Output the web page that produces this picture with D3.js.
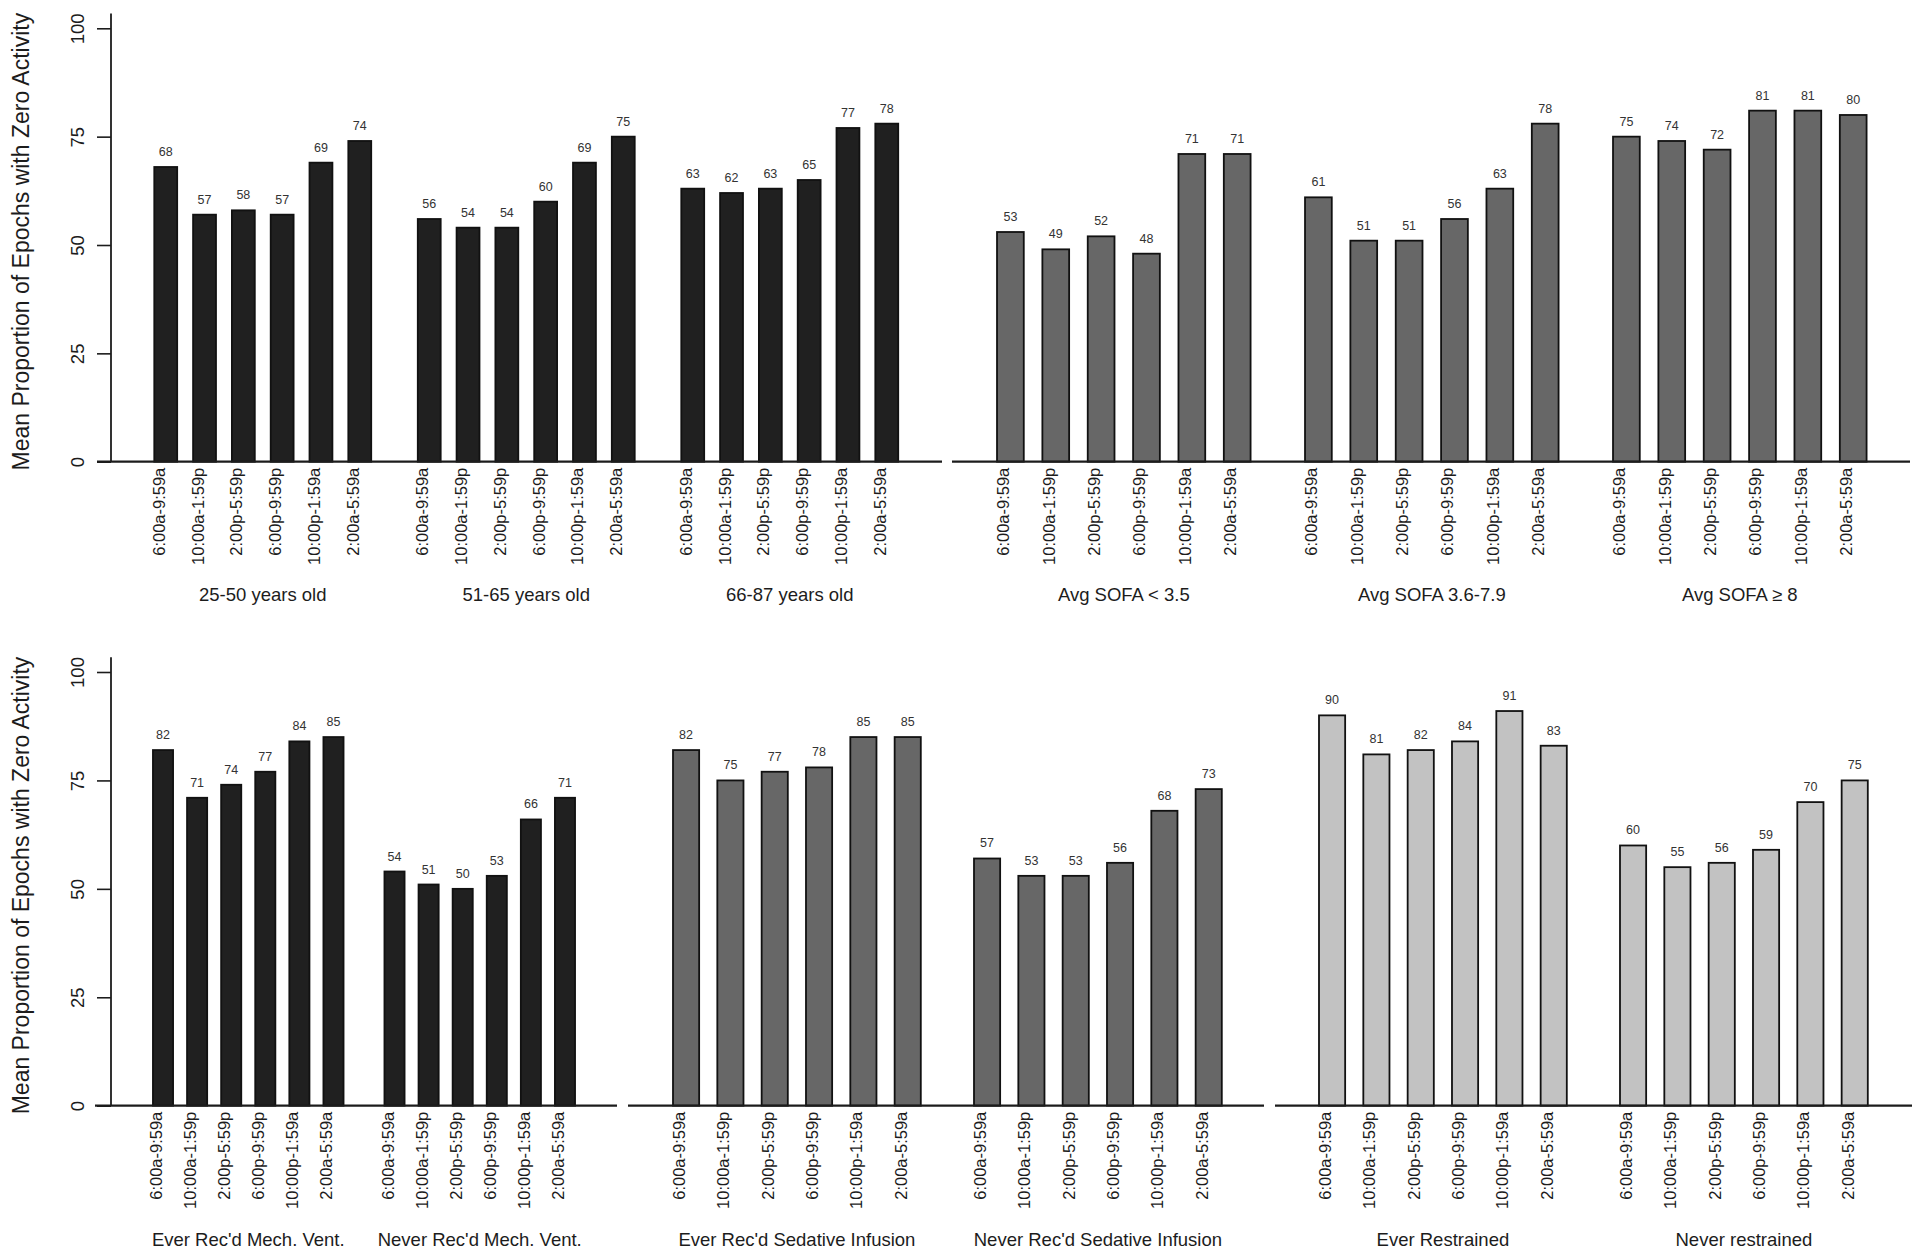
<!DOCTYPE html>
<html>
<head>
<meta charset="utf-8">
<script src="https://cdn.jsdelivr.net/npm/d3@7"></script>
<style>
  body { margin: 0; background: #fff; }
  svg { display: block; font-family: "Liberation Sans", Arial, Helvetica, sans-serif; }
</style>
</head>
<body>
<svg width="1920" height="1258"></svg>
<script>
// time-of-day categories (same for every group)
const times = ["6:00a-9:59a", "10:00a-1:59p", "2:00p-5:59p", "6:00p-9:59p", "10:00p-1:59a", "2:00a-5:59a"]
const yTicks = [0, 25, 50, 75, 100]

// group names
const ageGroups = ["25-50 years old", "51-65 years old", "66-87 years old"]
const sofaGroups = ["Avg SOFA < 3.5", "Avg SOFA 3.6-7.9", "Avg SOFA \u2265 8"]
const ventGroups = ["Ever Rec'd Mech. Vent.", "Never Rec'd Mech. Vent."]
const sedGroups = ["Ever Rec'd Sedative Infusion", "Never Rec'd Sedative Infusion"]
const restrGroups = ["Ever Restrained", "Never restrained"]

// mean % of epochs with zero activity, one array per group
const age2550 = [68, 57, 58, 57, 69, 74]
const age5165 = [56, 54, 54, 60, 69, 75]
const age6687 = [63, 62, 63, 65, 77, 78]
const sofaLow = [53, 49, 52, 48, 71, 71]
const sofaMid = [61, 51, 51, 56, 63, 78]
const sofaHigh = [75, 74, 72, 81, 81, 80]
const ventEver = [82, 71, 74, 77, 84, 85]
const ventNever = [54, 51, 50, 53, 66, 71]
const sedEver = [82, 75, 77, 78, 85, 85]
const sedNever = [57, 53, 53, 56, 68, 73]
const restrEver = [90, 81, 82, 84, 91, 83]
const restrNever = [60, 55, 56, 59, 70, 75]

const svg = d3.select("svg")
const ink = "#1c1c1c"

// one y scale per row
const rows = [
  { y: d3.scaleLinear().domain([0, 100]).range([461.7, 28.3]), labelY: 601 },
  { y: d3.scaleLinear().domain([0, 100]).range([1105.7, 672]), labelY: 1246 }
]

// sub-figures (each one pasted side by side in the original)
const figures = [
  { row: 0, groups: ageGroups, values: [age2550, age5165, age6687], fill: "#202020", band: [131, 921.5], line: [97, 942], yAxis: true },
  { row: 0, groups: sofaGroups, values: [sofaLow, sofaMid, sofaHigh], fill: "#676767", band: [969.8, 1893.8], line: [952, 1910] },
  { row: 1, groups: ventGroups, values: [ventEver, ventNever], fill: "#202020", band: [132.5, 595.5], line: [95, 617], yAxis: true },
  { row: 1, groups: sedGroups, values: [sedEver, sedNever], fill: "#676767", band: [646.4, 1248.4], line: [628, 1264] },
  { row: 1, groups: restrGroups, values: [restrEver, restrNever], fill: "#c2c2c2", band: [1292.4, 1894.4], line: [1275, 1912] }
]

figures.forEach(fig => {
  const row = rows[fig.row]
  const y = row.y
  const g = svg.append("g")

  const outer = d3.scaleBand().domain(fig.groups).range(fig.band)
  const inner = d3.scaleBand().domain(times)
    .range([0, outer.bandwidth()])
    .paddingInner(0.41)
    .paddingOuter(0.6)

  fig.groups.forEach((name, gi) => {
    const data = times.map((t, i) => ({ t: t, v: fig.values[gi][i] }))
    const gg = g.append("g").attr("transform", "translate(" + outer(name) + ",0)")

    gg.selectAll("rect")
      .data(data)
      .enter()
      .append("rect")
        .attr("x", d => inner(d.t))
        .attr("width", inner.bandwidth())
        .attr("y", d => y(d.v))
        .attr("height", d => y(0) - y(d.v))
        .attr("fill", fig.fill)
        .attr("stroke", "#111")
        .attr("stroke-width", 1.8)

    gg.selectAll("text.val")
      .data(data)
      .enter()
      .append("text")
        .attr("class", "val")
        .attr("x", d => inner(d.t) + inner.bandwidth() / 2)
        .attr("y", d => y(d.v) - 11)
        .attr("text-anchor", "middle")
        .attr("font-size", 12.5)
        .attr("fill", "#333")
        .text(d => d.v)

    // rotated time labels
    const xa = gg.append("g")
      .attr("transform", "translate(0," + y(0) + ")")
      .call(d3.axisBottom(inner).tickSize(0).tickPadding(0))
    xa.select(".domain").remove()
    xa.selectAll("text")
      .attr("x", 0).attr("y", 0).attr("dy", 0)
      .attr("text-anchor", "end")
      .attr("transform", "translate(-1,6) rotate(-90)")
      .attr("font-size", 16.5)
      .attr("font-family", null)
      .attr("fill", ink)

    // group label
    gg.append("text")
      .attr("x", outer.bandwidth() / 2)
      .attr("y", row.labelY)
      .attr("text-anchor", "middle")
      .attr("font-size", 18.5)
      .attr("fill", ink)
      .text(name)
  })

  // baseline
  g.append("line")
    .attr("x1", fig.line[0]).attr("x2", fig.line[1])
    .attr("y1", y(0)).attr("y2", y(0))
    .attr("stroke", ink)
    .attr("stroke-width", 2.2)

  if (fig.yAxis) {
    const axisX = 111
    const ya = g.append("g")
      .attr("transform", "translate(" + axisX + ",0)")
      .call(d3.axisLeft(y).tickValues(yTicks).tickSize(14).tickSizeOuter(0))
    ya.select(".domain").remove()
    ya.selectAll(".tick line").attr("stroke", ink).attr("stroke-width", 1.6)
    ya.selectAll("text")
      .attr("x", 0).attr("dy", 0)
      .attr("text-anchor", "middle")
      .attr("transform", "translate(-27,0) rotate(-90)")
      .attr("font-size", 18.5)
      .attr("font-family", null)
      .attr("fill", ink)

    g.append("line")
      .attr("x1", axisX).attr("x2", axisX)
      .attr("y1", y(0)).attr("y2", y(103.4))
      .attr("stroke", ink)
      .attr("stroke-width", 1.8)

    g.append("text")
      .attr("transform", "translate(29," + ((y(0) + y(103.4)) / 2 + 4) + ") rotate(-90)")
      .attr("text-anchor", "middle")
      .attr("font-size", 23)
      .attr("fill", ink)
      .text("Mean Proportion of Epochs with Zero Activity")
  }
})
</script>
</body>
</html>
